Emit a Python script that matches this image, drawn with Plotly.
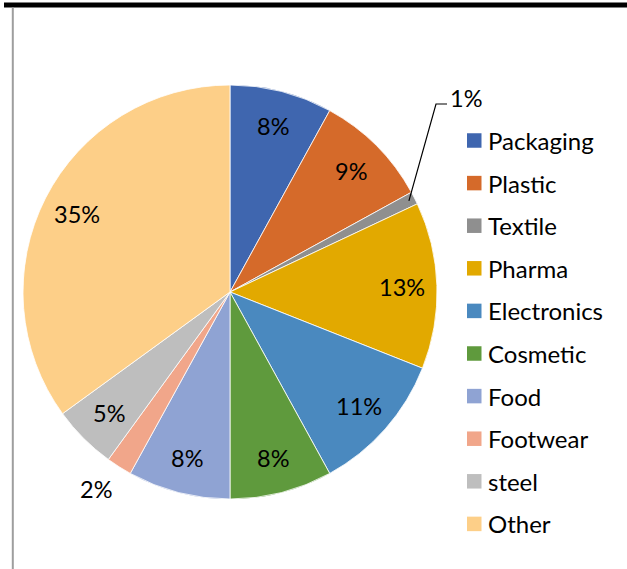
import math
import plotly.graph_objects as go

# Share of each sector (%)
categories = ["Packaging", "Plastic", "Textile", "Pharma", "Electronics",
              "Cosmetic", "Food", "Footwear", "steel", "Other"]
shares = [8, 9, 1, 13, 11, 8, 8, 2, 5, 35]
colors = ["#3F66AF", "#D56A2A", "#8F8F8F", "#E2A900", "#4A89BF",
          "#5F9A3D", "#8FA3D3", "#F1A68A", "#BEBEBE", "#FDCF88"]

W, H = 627, 569
FONT = "Lato"

# Pie placement in pixels
CX, CY, R = 230, 292, 207


def px(x):
    return x / W


def py(y):
    return 1 - y / H


fig = go.Figure(go.Pie(
    labels=categories,
    values=shares,
    sort=False,
    direction="clockwise",
    rotation=0,
    marker=dict(colors=colors, line=dict(color="white", width=0.8)),
    textinfo="none",
    hoverinfo="label+percent",
    showlegend=False,
    domain=dict(x=[px(CX - R), px(CX + R)], y=[py(CY + R), py(CY - R)]),
))

annotations = []
shapes = []


def label(x, y, text, size, xanchor="center"):
    annotations.append(dict(x=px(x), y=py(y), xref="paper", yref="paper",
                            text=text, showarrow=False,
                            xanchor=xanchor, yanchor="middle",
                            font=dict(family=FONT, size=size, color="black")))


# Percentage labels placed along each slice's mid angle
total = sum(shares)
cum = 0
for name, v in zip(categories, shares):
    mid = (cum + v / 2) / total * 2 * math.pi
    cum += v
    pct = f"{round(v / total * 100)}%"
    sx, sy = math.sin(mid), -math.cos(mid)
    if name == "Textile":
        # leader line from the rim, bending to the label
        rx, ry = CX + 0.97 * R * sx, CY + 0.97 * R * sy
        shapes.append(dict(type="path", xref="paper", yref="paper",
                           path=f"M {px(rx)} {py(ry)} L {px(436)} {py(104)} L {px(447)} {py(104)}",
                           line=dict(color="black", width=1.2)))
        label(448, 98, pct, 23.5, xanchor="left")
    elif name == "Footwear":
        lx, ly = CX + 1.15 * R * sx, CY + 1.15 * R * sy
        label(lx - 6, ly - 4, pct, 23.5)
    else:
        label(CX + 0.83 * R * sx, CY + 0.83 * R * sy, pct, 23.5)

# Legend: colour squares with names
LEG_X, LEG_Y0, LEG_DY, SQ = 467, 140.5, 42.6, 14.5
for i, (name, c) in enumerate(zip(categories, colors)):
    yc = LEG_Y0 + i * LEG_DY
    shapes.append(dict(type="rect", xref="paper", yref="paper",
                       x0=px(LEG_X), x1=px(LEG_X + SQ),
                       y0=py(yc + SQ / 2), y1=py(yc - SQ / 2),
                       fillcolor=c, line=dict(width=0)))
    label(486, yc, name, 24, xanchor="left")

# Frame: heavy top rule and thin grey left rule
shapes.append(dict(type="rect", xref="paper", yref="paper",
                   x0=px(4), x1=1, y0=py(7.5), y1=py(2.5),
                   fillcolor="black", line=dict(width=0)))
shapes.append(dict(type="rect", xref="paper", yref="paper",
                   x0=px(11.8), x1=px(13.8), y0=0, y1=py(7.5),
                   fillcolor="#9E9E9E", line=dict(width=0)))

fig.update_layout(
    width=W, height=H,
    margin=dict(l=0, r=0, t=0, b=0),
    paper_bgcolor="white",
    plot_bgcolor="white",
    annotations=annotations,
    shapes=shapes,
)

fig.write_html("out.html")
